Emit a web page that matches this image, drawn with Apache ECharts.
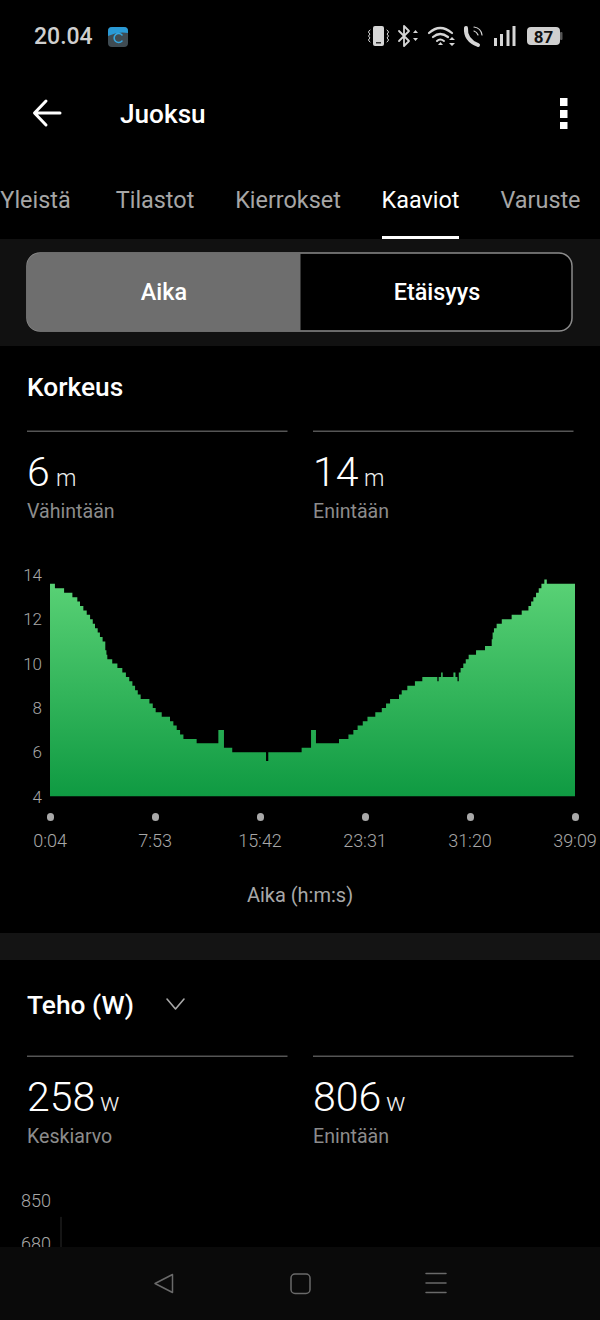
<!DOCTYPE html>
<html>
<head>
<meta charset="utf-8">
<title>Juoksu</title>
<script src="https://cdn.jsdelivr.net/npm/echarts@6/dist/echarts.min.js"></script>
<style>
  html, body { margin: 0; padding: 0; background: #000; }
  #chart { width: 600px; height: 1320px; }
</style>
</head>
<body>
<div id="chart"></div>
<script>
// seconds since the first sample, and the height that holds from that moment on
const elapsedSeconds = [
  0, 22, 63, 100, 122, 134, 149, 164, 179, 191, 201, 213, 223, 235, 247, 252, 256, 278, 301, 323,
  339, 354, 368, 380, 392, 405, 444, 459, 472, 499, 536, 551, 566, 581, 596, 655, 752, 777, 814, 965,
  975, 1124, 1166, 1188, 1291, 1333, 1355, 1374, 1397, 1418, 1453, 1482, 1501, 1519, 1559, 1571, 1596, 1630, 1663, 1730,
  1736, 1747, 1754, 1802, 1811, 1820, 1826, 1834, 1846, 1857, 1870, 1903, 1943, 1973, 1977, 1983, 1995, 2018, 2062, 2107,
  2137, 2149, 2159, 2171, 2183, 2195, 2208, 2219, 2345
];
const heightMeters = [
  13.6, 13.4, 13.2, 13.0, 12.8, 12.6, 12.4, 12.2, 12.0, 11.8, 11.6, 11.4, 11.2, 11.0, 10.6, 10.4, 10.2, 10.0, 9.8, 9.6,
  9.4, 9.2, 9.0, 8.8, 8.6, 8.4, 8.2, 8.0, 7.8, 7.6, 7.4, 7.2, 7.0, 6.8, 6.6, 6.4, 7.0, 6.2, 6.0, 5.6,
  6.0, 6.2, 7.0, 6.4, 6.6, 6.8, 7.0, 7.2, 7.4, 7.6, 7.8, 8.0, 8.2, 8.4, 8.6, 8.8, 9.0, 9.2, 9.4, 9.2,
  9.4, 9.6, 9.4, 9.6, 9.4, 9.2, 9.6, 9.8, 10.0, 10.2, 10.4, 10.6, 10.8, 11.1, 11.4, 11.6, 11.8, 12.0, 12.2, 12.4,
  12.6, 12.8, 13.0, 13.2, 13.4, 13.6, 13.8, 13.6, 13.6
];
const firstSampleSeconds = 4;
const timeStep = 469; // 7:49 between the x labels
const totalSeconds = 2345;

// only the top of the power chart is on screen
const powerSeconds = [0, 0];
const powerWatts = [510, 784];
const powerTickLabels = [850, 680];

const tabNames = ["Yleistä", "Tilastot", "Kierrokset", "Kaaviot", "Varuste"];
const tabCenters = [35.5, 155, 288, 420.5, 540.5];

const font = "Roboto";
const chart = echarts.init(document.getElementById("chart"), null, { renderer: "svg" });

function mmss(sec) {
  const m = Math.floor(sec / 60);
  const s = sec % 60;
  return m + ":" + String(s).padStart(2, "0");
}

function label(x, y, text, size, color, weight, align) {
  return {
    type: "text", x, y, z: 10,
    style: {
      text, fill: color, fontFamily: font, fontSize: size,
      fontWeight: weight || 400, textAlign: align || "left", textVerticalAlign: "middle"
    }
  };
}

function box(x, y, w, h, fill, r, z) {
  return { type: "rect", z: z || 1, shape: { x, y, width: w, height: h, r: r || 0 }, style: { fill } };
}

// the graphic component has no plain svg path type, so each icon path gets its own shape
let pathCount = 0;
function pathType(pathData) {
  const name = "iconPath" + pathCount++;
  echarts.graphic.registerShape(name, echarts.graphic.extendPath(pathData, {}));
  return name;
}

function stroke(pathData, color, width, z) {
  return {
    type: pathType(pathData), z: z || 10,
    style: { fill: "none", stroke: color, lineWidth: width, lineCap: "round", lineJoin: "round" }
  };
}

function solid(pathData, color, z) {
  return { type: pathType(pathData), z: z || 10, style: { fill: color } };
}

const statusColor = "#d6d6d6";
const graphics = [
  // bands behind the toggle and between the cards
  box(0, 239, 600, 107, "#111111"),
  box(0, 933, 600, 27, "#141414"),

  // status bar
  label(34, 36, "20.04", 23, "#cfcfcf", 500),
  box(108, 27, 20, 20, "#3f4b52", 4, 5),
  solid("M108 36 L108 31 Q108 27 112 27 L124 27 Q128 27 128 31 L128 33 Q118 31 108 36 Z", "#2a9ad6", 6),
  stroke("M122 35 A4.5 4.5 0 1 0 122 41", "#35a7e0", 1.6),
  box(373, 26, 11, 20, statusColor, 2, 5),
  box(376, 42, 5, 1.5, "#333333", 0, 6),
  stroke("M370 30 Q367 32 370 34 Q367 36 370 38 Q367 40 370 42", statusColor, 1),
  stroke("M387 30 Q390 32 387 34 Q390 36 387 38 Q390 40 387 42", statusColor, 1),
  stroke("M399 31 L409 41 L404 46 L404 26 L409 31 L399 41", statusColor, 1.8),
  solid("M413 33 L418 33 L415.5 30 Z M413 38 L418 38 L415.5 41 Z", statusColor),
  stroke("M429 33 Q440 23 452 33", statusColor, 2.2),
  stroke("M433 37 Q440 31 448 37", statusColor, 2.2),
  stroke("M437 41 Q440 38 444 41", statusColor, 2),
  solid("M440.5 42 L443 45 L438 45 Z", statusColor),
  solid("M449 40 L455 40 L452 37 Z M449 43 L455 43 L452 46 Z", statusColor),
  stroke("M466 28 Q465 40 478 45", statusColor, 4),
  stroke("M474 31 Q477 32 478 35", statusColor, 1.2),
  stroke("M474 27 Q481 28 482 35", statusColor, 1.2),
  box(494, 38, 3, 8, statusColor),
  box(500, 34, 3, 12, statusColor),
  box(506.5, 30, 3, 16, statusColor),
  box(512.5, 26, 3, 20, statusColor),
  box(527, 27, 33, 18, "#cfcfcf", 4, 5),
  box(560, 32, 2.5, 8, "#555555", 1, 5),
  label(543.5, 36.5, "87", 17, "#111111", 700, "center"),

  // header
  stroke("M60 113 L35 113 M46 101 L34.5 113 L46 125", "#ffffff", 3),
  label(120, 114, "Juoksu", 26.2, "#ffffff", 500),
  box(560, 98, 7.5, 8, "#ffffff", 0, 5),
  box(560, 110, 7.5, 8, "#ffffff", 0, 5),
  box(560, 122, 7.5, 7, "#ffffff", 0, 5),

  // tabs
  box(382, 236, 77, 3, "#ffffff", 0, 5),

  // toggle
  { type: "rect", z: 3, shape: { x: 27, y: 253, width: 545, height: 78, r: 13 }, style: { fill: "#000000", stroke: "#8a8a8a", lineWidth: 1.5 } },
  box(27, 253, 273.5, 78, "#6e6e6e", [13, 0, 0, 13], 4),
  label(164, 292, "Aika", 23.4, "#ffffff", 500, "center"),
  label(437, 292, "Etäisyys", 23.4, "#ffffff", 500, "center"),

  // height card
  label(27, 387, "Korkeus", 26.3, "#ffffff", 500),
  box(27, 430.5, 260.5, 1.5, "#555555"),
  box(313, 430.5, 260.5, 1.5, "#555555"),
  label(27, 472, "6", 41, "#ffffff", 300),
  label(56, 478, "m", 23, "#eeeeee", 300),
  label(27, 511.5, "Vähintään", 19.6, "#8c8c8c"),
  label(313, 472, "14", 41, "#ffffff", 300),
  label(364, 478, "m", 23, "#eeeeee", 300),
  label(313, 511.5, "Enintään", 19.6, "#8c8c8c"),
  label(300, 895, "Aika (h:m:s)", 20, "#a8a8a8", 400, "center"),

  // power card
  label(27, 1005, "Teho (W)", 26.3, "#ffffff", 500),
  stroke("M167 999 L175.5 1009 L184 999", "#a8a8a8", 1.6),
  box(27, 1055.5, 260.5, 1.5, "#555555"),
  box(313, 1055.5, 260.5, 1.5, "#555555"),
  label(27, 1097, "258", 41, "#ffffff", 300),
  label(100, 1102, "w", 26, "#eeeeee", 300),
  label(27, 1136.5, "Keskiarvo", 19.6, "#8c8c8c"),
  label(313, 1097, "806", 41, "#ffffff", 300),
  label(386, 1102, "w", 26, "#eeeeee", 300),
  label(313, 1136.5, "Enintään", 19.6, "#8c8c8c"),

  // navigation bar hides the rest of the power chart
  box(0, 1247, 600, 73, "#0a0a0a", 0, 50),
  stroke("M172.5 1274.5 L155 1283.5 L172.5 1292.5 Z", "#6a6a6a", 1.5, 60),
  { type: "rect", z: 60, shape: { x: 291, y: 1274, width: 19, height: 19.5, r: 4 }, style: { fill: "none", stroke: "#6a6a6a", lineWidth: 1.5 } },
  stroke("M426 1273.5 L446 1273.5 M426 1283 L446 1283 M426 1292.5 L446 1292.5", "#6a6a6a", 1.5, 60)
];

tabNames.forEach((name, i) => {
  graphics.push(label(tabCenters[i], 200, name, 23.4, name === "Kaaviot" ? "#ffffff" : "#a6a6a6", 400, "center"));
});

chart.setOption({
  animation: false,
  backgroundColor: "#000000",
  textStyle: { fontFamily: font },
  grid: [
    { left: 50, top: 575, width: 525, height: 221.5 },
    { left: 61, top: 1200, width: 514, height: 87 }
  ],
  xAxis: [
    {
      type: "value", gridIndex: 0, min: 0, max: totalSeconds, interval: timeStep, offset: 20,
      axisLine: { show: false },
      splitLine: { show: false },
      axisTick: { show: true, length: 1, lineStyle: { color: "#a8a8a8", width: 7, cap: "round" } },
      axisLabel: {
        color: "#a8a8a8", fontSize: 18, fontWeight: 300, margin: 15, showMinLabel: true, showMaxLabel: true,
        hideOverlap: false,
        formatter: (v) => mmss(v + firstSampleSeconds)
      }
    },
    { type: "value", gridIndex: 1, min: 0, max: totalSeconds, show: false }
  ],
  yAxis: [
    {
      type: "value", gridIndex: 0, min: 4, max: 14, interval: 2,
      axisLine: { show: false },
      axisTick: { show: false },
      splitLine: { show: false },
      axisLabel: { color: "#a8a8a8", fontSize: 17, fontWeight: 300, margin: 8 }
    },
    {
      type: "value", gridIndex: 1, min: 510, max: 850, interval: 170,
      axisLine: { show: false },
      axisTick: { show: false },
      splitLine: { show: false },
      axisLabel: {
        color: "#a8a8a8", fontSize: 18, fontWeight: 300, margin: 10,
        formatter: (v) => (powerTickLabels.includes(v) ? String(v) : "")
      }
    }
  ],
  series: [
    {
      name: "Korkeus", type: "line", xAxisIndex: 0, yAxisIndex: 0, step: "end",
      showSymbol: false, lineStyle: { width: 0 },
      areaStyle: {
        opacity: 1,
        color: new echarts.graphic.LinearGradient(0, 0, 0, 1, [
          { offset: 0, color: "#5ad276" },
          { offset: 1, color: "#0f9a42" }
        ])
      },
      data: elapsedSeconds.map((t, i) => [t, heightMeters[i]])
    },
    {
      name: "Teho", type: "line", xAxisIndex: 1, yAxisIndex: 1,
      showSymbol: false, lineStyle: { width: 1, color: "#2a2a2a" },
      data: powerSeconds.map((t, i) => [t, powerWatts[i]])
    }
  ],
  graphic: { elements: graphics }
});
</script>
</body>
</html>
